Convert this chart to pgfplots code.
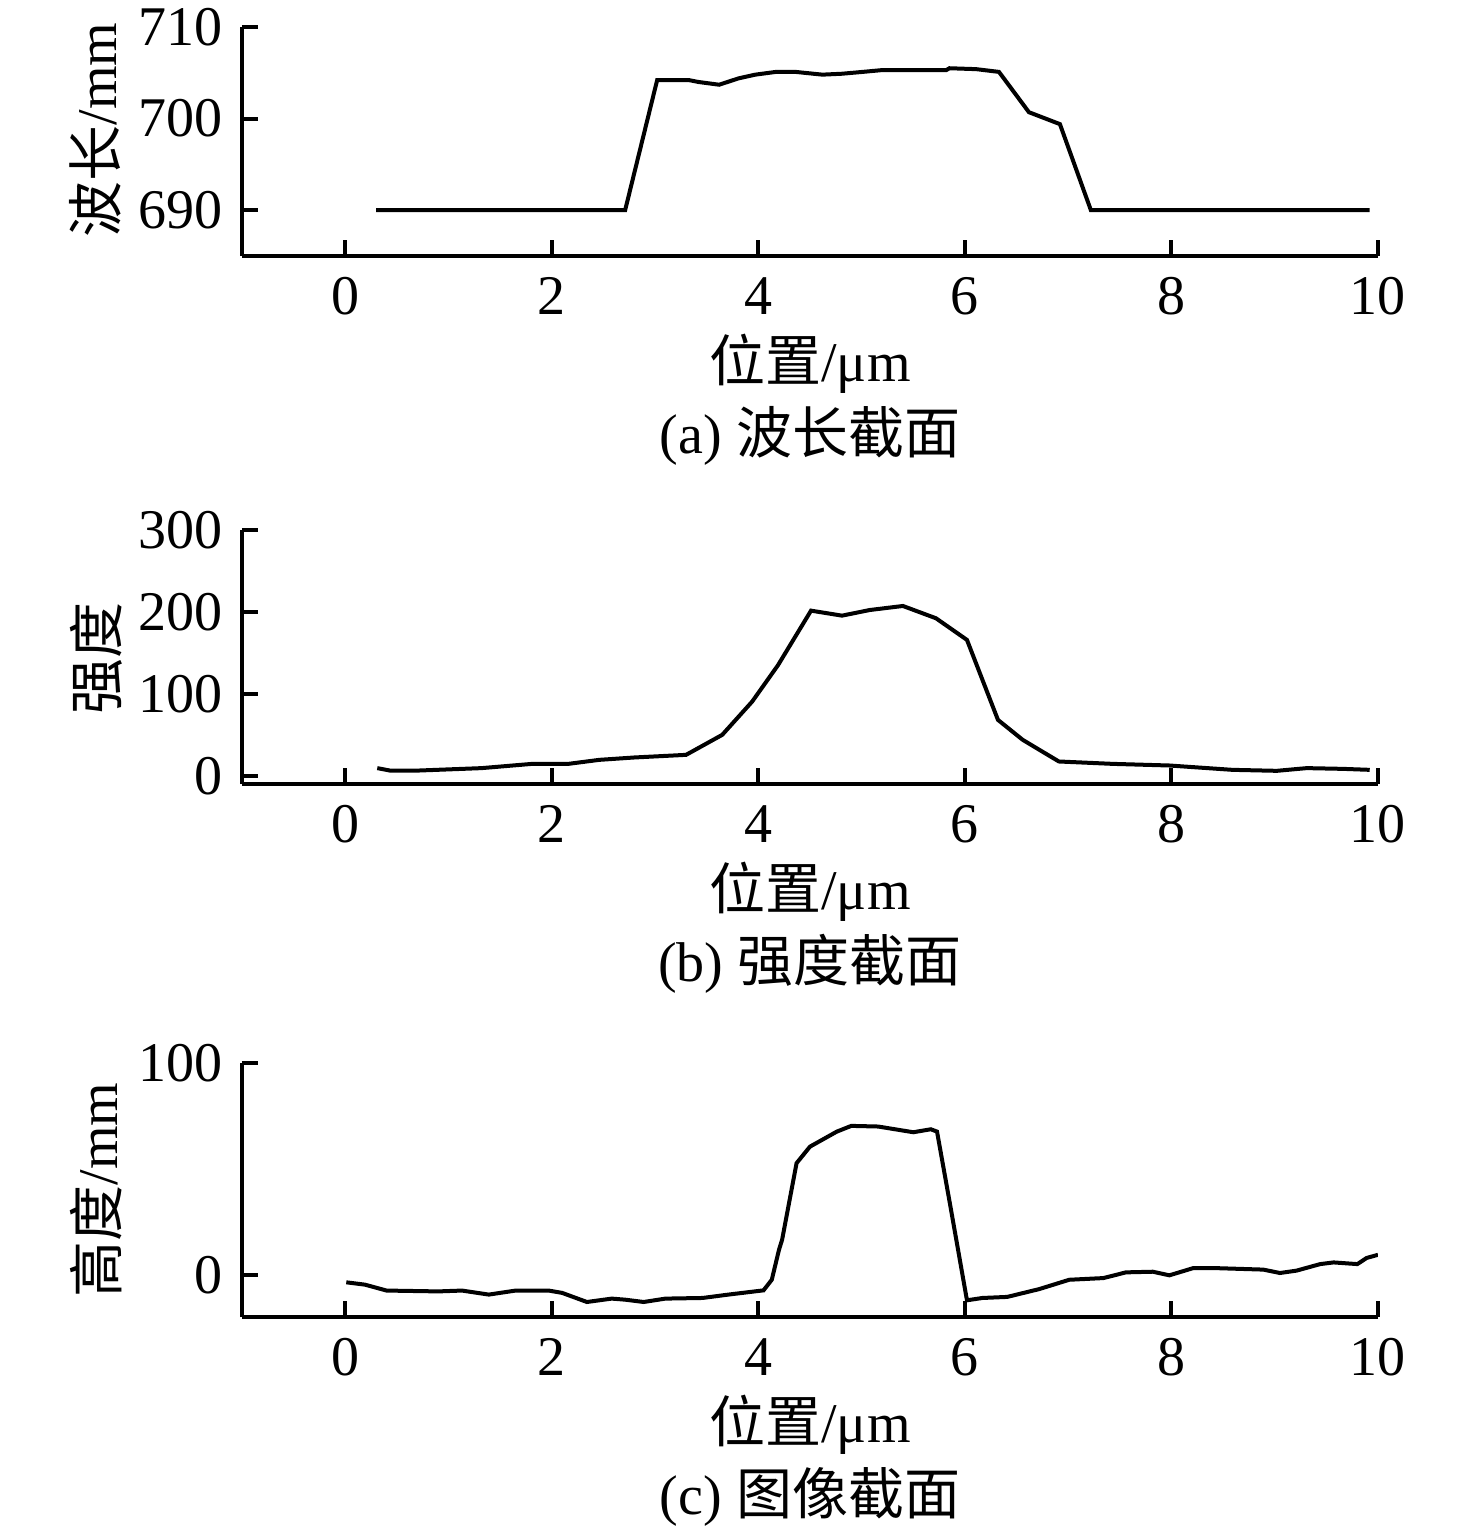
\documentclass[border=0pt]{standalone}
\usepackage{fontspec}
\setmainfont{Liberation Serif}
\newfontfamily\cjk{Noto Sans CJK SC}
\usepackage{pgfplots}
\pgfplotsset{compat=1.18}
\pgfplotsset{
  myax/.style={
    scale only axis,
    width=284pt,
    xmin=-1, xmax=10,
    axis x line*=bottom, axis y line*=left,
    axis line style={-, line width=1pt, black},
    tick align=inside,
    major tick length=4pt,
    tick style={line width=1pt, black},
    xtick={0,2,4,6,8,10},
    scaled ticks=false,
    /pgf/number format/assume math mode=true,
    /pgf/number format/set thousands separator={},
    xticklabel style={yshift=-0.5pt},
    xlabel={{\cjk 位置}/μm},
    xlabel style={at={(axis description cs:0.5,0)}, anchor=center, yshift=-27pt},
    title style={at={(axis description cs:0.5,0)}, anchor=center, yshift=-51pt},
  }
}
\begin{document}
\fontsize{14}{16.8}\selectfont
\begin{tikzpicture}
% (a)
\begin{axis}[myax, at={(0pt,-64pt)}, anchor=south west, height=57.25pt,
  ymin=685, ymax=710, ytick={690,700,710},
  ylabel={{\cjk 波长}/mm},
  ylabel style={at={(axis description cs:-0.129,0.55)}, anchor=center},
  title={(a) {\cjk 波长截面}}]
\addplot[black, line width=1pt, mark=none] coordinates {
(0.30,690) (2.71,690) (3.02,704.2) (3.33,704.2) (3.42,704.0) (3.62,703.7)
(3.81,704.4) (3.97,704.8) (4.17,705.1) (4.36,705.1) (4.62,704.8) (4.81,704.9)
(5.01,705.1) (5.20,705.3) (5.82,705.3) (5.85,705.5) (6.11,705.4) (6.33,705.1)
(6.62,700.7) (6.92,699.4) (7.22,690) (9.92,690)
};
\end{axis}
% (b)
\begin{axis}[myax, at={(0pt,-196pt)}, anchor=south west, height=63.5pt,
  ymin=-10, ymax=300, ytick={0,100,200,300},
  ylabel={\cjk 强度},
  ylabel style={at={(axis description cs:-0.128,0.496)}, anchor=center},
  title={(b) {\cjk 强度截面}}]
\addplot[black, line width=1pt, mark=none] coordinates {
(0.31,9.4) (0.43,6.5) (0.72,6.5) (1.32,9.4) (1.81,14.6) (2.16,14.6)
(2.46,19.5) (2.80,22.4) (3.30,25.6) (3.65,50) (3.94,90.6) (4.19,135)
(4.51,201.6) (4.81,195.5) (5.08,202.4) (5.40,207.3) (5.72,192.3) (6.02,165.9)
(6.32,68.3) (6.56,43.9) (6.91,17.5) (7.43,14.6) (7.98,12.6) (8.59,7.3)
(9.02,6.1) (9.31,9.4) (9.66,8.5) (9.92,7.3)
};
\end{axis}
% (c)
\begin{axis}[myax, at={(0pt,-329.25pt)}, anchor=south west, height=63.5pt,
  ymin=-20, ymax=100, ytick={0,100},
  ylabel={{\cjk 高度}/mm},
  ylabel style={at={(axis description cs:-0.128,0.5)}, anchor=center},
  title={(c) {\cjk 图像截面}}]
\addplot[black, line width=1pt, mark=none] coordinates {
(0.01,-3.6) (0.19,-4.7) (0.40,-7.5) (0.90,-7.9) (1.13,-7.5) (1.39,-9.4)
(1.65,-7.5) (1.97,-7.5) (2.10,-8.6) (2.34,-12.9) (2.58,-11.3) (2.71,-11.8)
(2.89,-12.9) (3.10,-11.3) (3.46,-11.0) (3.71,-9.4) (4.05,-7.4) (4.13,-2.4)
(4.20,11.8) (4.23,16.5) (4.37,52.7) (4.50,60.5) (4.76,67.6) (4.90,70.3)
(5.16,70) (5.50,67.3) (5.67,68.7) (5.73,67.6) (5.86,32.2) (6.02,-12.1)
(6.17,-11.0) (6.41,-10.5) (6.72,-6.8) (7.01,-2.4) (7.34,-1.6) (7.56,1.1)
(7.82,1.4) (7.98,-0.3) (8.21,3.1) (8.43,3.1) (8.89,2.4) (9.05,0.8)
(9.21,1.9) (9.44,5.0) (9.57,5.8) (9.80,5.0) (9.89,7.9) (10.0,9.4)
};
\end{axis}
\pgfresetboundingbox
\path[use as bounding box] (-60.5pt,0pt) rectangle (308.5pt,-383.75pt);
\end{tikzpicture}
\end{document}
